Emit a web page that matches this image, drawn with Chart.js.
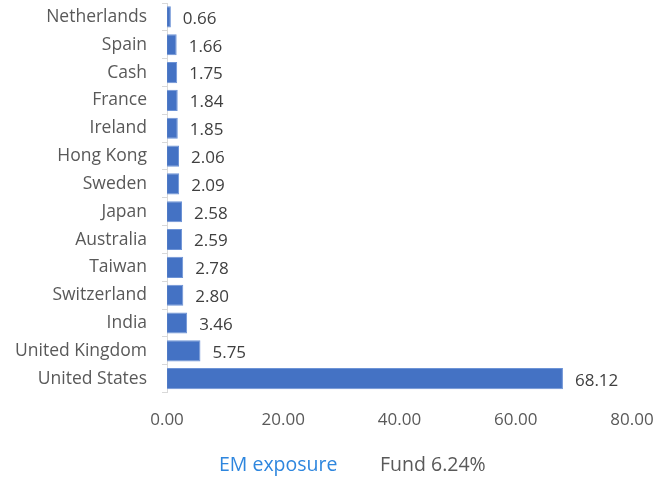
<!DOCTYPE html>
<html><head><meta charset="utf-8">
<script src="https://cdn.jsdelivr.net/npm/chart.js@4/dist/chart.umd.min.js"></script>
<style>html,body{margin:0;padding:0;background:#fff}#wrap{width:660px;height:477px}</style>
</head><body><div id="wrap"><canvas id="c" width="660" height="477"></canvas></div>
<script>
const categories = ["Netherlands","Spain","Cash","France","Ireland","Hong Kong","Sweden","Japan","Australia","Taiwan","Switzerland","India","United Kingdom","United States"];
const values = [0.66,1.66,1.75,1.84,1.85,2.06,2.09,2.58,2.59,2.78,2.80,3.46,5.75,68.12];
const xTicks = [0,20,40,60,80];
const footerLabel = "EM exposure";
const footerValue = "Fund 6.24%";
const FONT = "'Open Sans', sans-serif";

const labelPlugin = {
  id: 'valLabels',
  afterDatasetsDraw(chart) {
    const ctx = chart.ctx;
    const meta = chart.getDatasetMeta(0);
    ctx.save();
    ctx.font = "17px " + FONT;
    ctx.fillStyle = "#404040";
    ctx.textAlign = "left";
    ctx.textBaseline = "middle";
    meta.data.forEach((bar, i) => {
      ctx.fillText(values[i].toFixed(2), bar.x + 12, bar.y + 2);
    });
    ctx.restore();
  },
  afterDraw(chart) {
    const ctx = chart.ctx;
    ctx.save();
    ctx.font = "19.5px " + FONT;
    ctx.textBaseline = "middle";
    ctx.textAlign = "left";
    ctx.fillStyle = "#2E86DE";
    ctx.fillText(footerLabel, 219, 465);
    ctx.fillStyle = "#595959";
    ctx.fillText(footerValue, 380, 465);
    ctx.restore();
  }
};

new Chart(document.getElementById('c'), {
  type: 'bar',
  data: {
    labels: categories,
    datasets: [{
      data: values,
      backgroundColor: '#4472C4',
      borderColor: '#6d93d6',
      borderWidth: 1,
      categoryPercentage: 1,
      barPercentage: 0.76
    }]
  },
  options: {
    indexAxis: 'y',
    responsive: false,
    animation: false,
    devicePixelRatio: 1,
    layout: { padding: { top: 3, right: 28, bottom: 38, left: 0 } },
    plugins: { legend: { display: false }, tooltip: { enabled: false } },
    scales: {
      x: {
        min: 0, max: 80,
        afterBuildTicks(axis) { axis.ticks = xTicks.map(v => ({ value: v })); },
        afterFit(axis) { axis.paddingRight = 0; axis.paddingLeft = 0; },
        ticks: {
          callback: v => Number(v).toFixed(2),
          font: { family: FONT, size: 17 },
          color: '#595959',
          padding: 9
        },
        grid: { display: false },
        border: { display: false }
      },
      y: {
        afterFit(axis) { axis.paddingTop = 0; axis.paddingBottom = 0; },
        ticks: {
          font: { family: FONT, size: 17.5 },
          color: '#595959',
          padding: 15,
          autoSkip: false
        },
        grid: { drawOnChartArea: false, drawTicks: true, tickLength: 5, offset: true, color: '#d9d9d9' },
        border: { display: true, color: '#d9d9d9' }
      }
    }
  },
  plugins: [labelPlugin]
});
</script></body></html>
